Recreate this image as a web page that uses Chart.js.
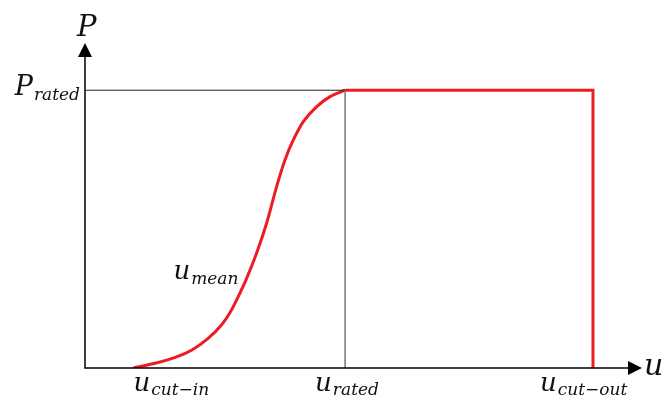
<!DOCTYPE html>
<html>
<head>
<meta charset="utf-8">
<script src="https://cdn.jsdelivr.net/npm/chart.js"></script>
<style>
  html, body { margin: 0; padding: 0; background: #fff; }
</style>
</head>
<body>
<canvas id="chart" width="661" height="396"></canvas>
<script>
// Кривая мощности: x - скорость ветра (условные ед.), y - P / P_rated
const curveU = [8.7, 12.6, 16.2, 19.2, 22.1, 24.5, 26.3, 27.8, 28.9, 30.8, 32.6, 34.4, 35.9, 37.4, 39.2, 41.6, 44.0, 46.7];
const curveP = [0, 0.017, 0.038, 0.065, 0.107, 0.155, 0.209, 0.269, 0.317, 0.413, 0.521, 0.653, 0.749, 0.821, 0.887, 0.941, 0.977, 1];
const ratedU = [46.7, 91.2, 91.2];
const ratedP = [1, 1, 0];
const guideHU = [0, 46.7];
const guideHP = [1, 1];
const guideVU = [46.7, 46.7];
const guideVP = [1, 0];
const tickU = [8.7, 46.7, 91.2];
const tickLabels = [['u', 'cut−in'], ['u', 'rated'], ['u', 'cut−out']];
const meanLabel = ['u', 'mean'];
const meanAt = [27.0, 0.34];
const yTickLabel = ['P', 'rated'];
const xMax = 100;
const yMax = 1.17;

const toPoints = (xs, ys) => xs.map((x, i) => ({ x: x, y: ys[i] }));

const FONT = '"DejaVu Serif", serif';

// текст с нижним индексом
function drawSub(ctx, base, sub, x, y, size, subSize, align, drop) {
    ctx.font = 'italic ' + size + 'px ' + FONT;
    const wb = ctx.measureText(base).width;
    ctx.font = 'italic ' + subSize + 'px ' + FONT;
    const ws = ctx.measureText(sub).width;
    let left = x;
    if (align === 'right') left = x - wb - ws - 1;
    ctx.font = 'italic ' + size + 'px ' + FONT;
    ctx.fillText(base, left, y);
    ctx.font = 'italic ' + subSize + 'px ' + FONT;
    ctx.fillText(sub, left + wb + 1, y + (drop !== undefined ? drop : subSize * 0.3));
}

const axesPlugin = {
    id: 'axesPlugin',
    afterDatasetsDraw(chart) {
        const ctx = chart.ctx;
        const xs = chart.scales.x, ys = chart.scales.y;
        const x0 = xs.getPixelForValue(0), y0 = ys.getPixelForValue(0);
        const xEnd = xs.getPixelForValue(xMax), yEnd = ys.getPixelForValue(yMax);
        ctx.save();
        ctx.strokeStyle = '#000';
        ctx.fillStyle = '#000';
        ctx.lineWidth = 1.5;
        ctx.beginPath();
        ctx.moveTo(x0, yEnd + 12);
        ctx.lineTo(x0, y0);
        ctx.lineTo(xEnd - 12, y0);
        ctx.stroke();
        // стрелки
        ctx.beginPath();
        ctx.moveTo(x0, yEnd);
        ctx.lineTo(x0 - 7, yEnd + 14);
        ctx.lineTo(x0 + 7, yEnd + 14);
        ctx.closePath();
        ctx.fill();
        ctx.beginPath();
        ctx.moveTo(xEnd, y0);
        ctx.lineTo(xEnd - 14, y0 - 7);
        ctx.lineTo(xEnd - 14, y0 + 7);
        ctx.closePath();
        ctx.fill();

        ctx.fillStyle = '#111';
        ctx.textBaseline = 'alphabetic';
        ctx.textAlign = 'left';
        // подписи осей
        ctx.font = 'italic 29px ' + FONT;
        ctx.fillText('P', x0 - 8, yEnd - 7);
        ctx.font = 'italic 30px ' + FONT;
        ctx.fillText('u', xEnd + 2, y0 + 7);
        // подпись P_rated
        drawSub(ctx, yTickLabel[0], yTickLabel[1], x0 - 5, ys.getPixelForValue(1) + 5, 27, 17, 'right');
        // подписи по оси x
        const shift = [0, 30, 53];
        tickU.forEach((u, i) => {
            drawSub(ctx, tickLabels[i][0], tickLabels[i][1], xs.getPixelForValue(u) - shift[i], y0 + 23, 26, 17, 'left', 3.5);
        });
        drawSub(ctx, meanLabel[0], meanLabel[1], xs.getPixelForValue(meanAt[0]) - 62, ys.getPixelForValue(meanAt[1]) + 5, 26, 17, 'left');
        ctx.restore();
    }
};

new Chart(document.getElementById('chart'), {
    type: 'scatter',
    data: {
        datasets: [
            {
                data: toPoints(guideHU, guideHP),
                showLine: true,
                borderColor: '#222',
                borderWidth: 1,
                pointRadius: 0
            },
            {
                data: toPoints(guideVU, guideVP),
                showLine: true,
                borderColor: '#777',
                borderWidth: 1.5,
                pointRadius: 0
            },
            {
                data: toPoints(curveU, curveP),
                showLine: true,
                borderColor: '#ed1c24',
                borderWidth: 3,
                pointRadius: 0,
                tension: 0.3
            },
            {
                data: toPoints(ratedU, ratedP),
                showLine: true,
                borderColor: '#ed1c24',
                borderWidth: 3,
                pointRadius: 0,
                borderJoinStyle: 'miter'
            }
        ]
    },
    options: {
        responsive: false,
        animation: false,
        layout: { padding: { left: 85, right: 19, top: 43, bottom: 28 } },
        plugins: {
            legend: { display: false },
            tooltip: { enabled: false }
        },
        scales: {
            x: { type: 'linear', min: 0, max: xMax, display: false },
            y: { type: 'linear', min: 0, max: yMax, display: false }
        }
    },
    plugins: [axesPlugin]
});
</script>
</body>
</html>
